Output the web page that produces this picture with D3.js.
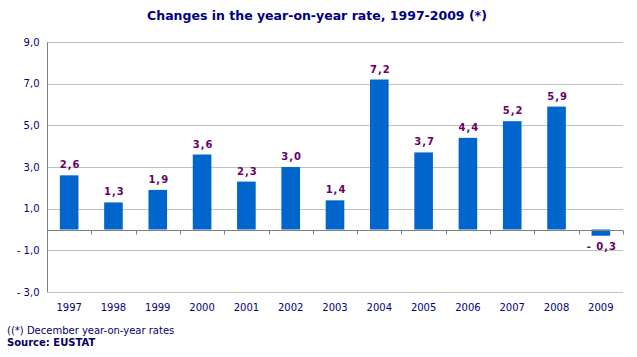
<!DOCTYPE html>
<html><head><meta charset="utf-8">
<script src="https://cdn.jsdelivr.net/npm/d3@7"></script>
<style>body{margin:0;background:#fff}svg{display:block}</style>
</head><body>
<script>
const years = ["1997","1998","1999","2000","2001","2002","2003","2004","2005","2006","2007","2008","2009"];
const values = [2.6,1.3,1.9,3.6,2.3,3.0,1.4,7.2,3.7,4.4,5.2,5.9,-0.3];
const yTicks = [9,7,5,3,1,-1,-3];
const title = "Changes in the year-on-year rate, 1997-2009 (*)";
const note = "((*) December year-on-year rates";
const source = "Source: EUSTAT";

const W = 637, H = 357;
const svg = d3.select("body").append("svg").attr("width", W).attr("height", H);
const font = "Verdana, 'DejaVu Sans', sans-serif";
const x = d3.scaleBand().domain(years).range([47, 623]).paddingInner(0.58).paddingOuter(0.29);
const y = d3.scaleLinear().domain([-3, 9]).range([292, 42]);
const fmt = d => d3.format(".1f")(d).replace(".", ",").replace("\u2212", "- ").replace(/^-(\d)/, "- $1");

svg.append("text").attr("x", 317).attr("y", 19.5).attr("text-anchor", "middle")
  .attr("font-family", font).attr("font-weight", "bold").attr("font-size", 12.5)
  .attr("fill", "#000080").text(title);

// gridlines
svg.append("g").selectAll("line").data(yTicks).join("line")
  .attr("x1", 47).attr("x2", 623).attr("y1", d => Math.round(y(d)) + 0.5).attr("y2", d => Math.round(y(d)) + 0.5)
  .attr("stroke", "#c0c0c0").attr("stroke-width", 1);

// y axis
const yAxis = d3.axisLeft(y).tickValues(yTicks).tickSize(0).tickPadding(8).tickFormat(fmt);
const gy = svg.append("g").attr("transform", "translate(47.5,0)").call(yAxis);
gy.select(".domain").attr("stroke", "#808080").attr("d", `M0,${y(9)}V${y(-3)}`);
gy.selectAll("text").attr("font-family", font).attr("font-size", 10).attr("fill", "#000080");

// bars
svg.append("g").selectAll("rect").data(values).join("rect")
  .attr("x", (d, i) => x(years[i])).attr("width", x.bandwidth())
  .attr("y", d => y(Math.max(0, d))).attr("height", d => Math.abs(y(d) - y(0)))
  .attr("fill", "#0066CC");

// zero axis with ticks
const z = Math.round(y(0)) + 0.5;
svg.append("line").attr("x1", 47).attr("x2", 623).attr("y1", z).attr("y2", z).attr("stroke", "#808080");
const step = (623 - 47) / years.length;
svg.append("g").selectAll("line").data(d3.range(1, years.length + 1)).join("line")
  .attr("x1", i => Math.round(47 + i * step) + 0.5).attr("x2", i => Math.round(47 + i * step) + 0.5)
  .attr("y1", z).attr("y2", z + 4).attr("stroke", "#808080");

// x labels
svg.append("g").selectAll("text").data(years).join("text")
  .attr("x", d => x(d) + x.bandwidth() / 2).attr("y", 311).attr("text-anchor", "middle")
  .attr("font-family", font).attr("font-size", 10).attr("fill", "#000080").text(d => d);

// value labels
svg.append("g").selectAll("text").data(values).join("text")
  .attr("x", (d, i) => x(years[i]) + x.bandwidth() / 2 + 1)
  .attr("y", d => d >= 0 ? y(d) - 7 : y(d) + 14)
  .attr("text-anchor", "middle").attr("font-family", font).attr("font-weight", "bold")
  .attr("font-size", 10).attr("letter-spacing", 1).attr("fill", "#660066")
  .text(fmt);

svg.append("text").attr("x", 7).attr("y", 334).attr("font-family", font).attr("font-size", 10)
  .attr("fill", "#000066").text(note);
svg.append("text").attr("x", 7).attr("y", 346).attr("font-family", font).attr("font-size", 10)
  .attr("font-weight", "bold").attr("fill", "#000066").text(source);
</script>
</body></html>
